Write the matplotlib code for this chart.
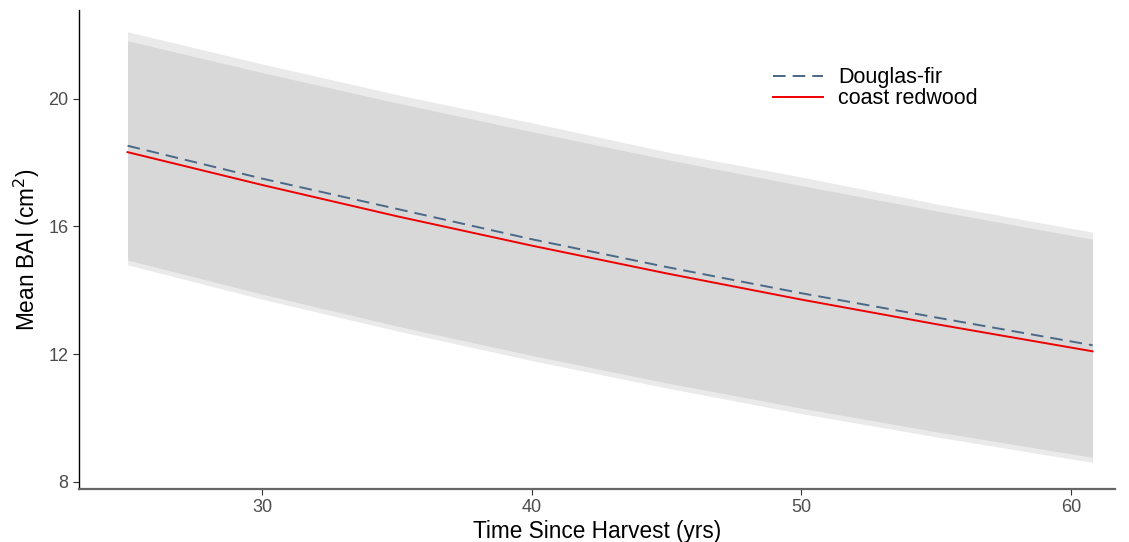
import matplotlib
matplotlib.use('Agg')
import matplotlib.pyplot as plt

plt.rcParams['font.family'] = ['Liberation Sans', 'DejaVu Sans']

# values
years = [25, 30, 35, 40, 45, 50, 55, 60.8]

df_mean = [18.53, 17.50, 16.55, 15.60, 14.73, 13.91, 13.15, 12.28]
df_upper = [22.10, 21.09, 20.13, 19.25, 18.34, 17.55, 16.71, 15.82]
df_lower = [14.95, 13.88, 12.88, 11.96, 11.10, 10.31, 9.57, 8.77]

cr_mean = [18.33, 17.30, 16.32, 15.40, 14.53, 13.71, 12.94, 12.09]
cr_upper = [21.82, 20.82, 19.87, 18.97, 18.10, 17.28, 16.49, 15.60]
cr_lower = [14.80, 13.72, 12.73, 11.80, 10.94, 10.14, 9.41, 8.61]

species = ['Douglas-fir', 'coast redwood']
x_ticks = [30, 40, 50, 60]
y_ticks = [8, 12, 16, 20]

fig = plt.figure(figsize=(11.29, 5.42), dpi=100)
ax = fig.add_axes([0.070, 0.098, 0.918, 0.884])

# confidence ribbons
ax.fill_between(years, df_lower, df_upper, color=(0.45, 0.45, 0.45),
                alpha=0.15, linewidth=0)
ax.fill_between(years, cr_lower, cr_upper, color=(0.45, 0.45, 0.45),
                alpha=0.15, linewidth=0)

# mean lines
ax.plot(years, df_mean, color='#4a6887', linewidth=1.4,
        dashes=(6.5, 3.6), label=species[0])
ax.plot(years, cr_mean, color='#ee0000', linewidth=1.4,
        label=species[1])

ax.set_xlim(23.2, 61.65)
ax.set_ylim(7.78, 22.79)
ax.set_xticks(x_ticks)
ax.set_yticks(y_ticks)

ax.spines['top'].set_visible(False)
ax.spines['right'].set_visible(False)
ax.spines['left'].set_color('black')
ax.spines['left'].set_linewidth(1.0)
ax.spines['bottom'].set_color('#666666')
ax.spines['bottom'].set_linewidth(1.6)

ax.tick_params(axis='both', direction='out', length=4, width=0.8,
               color='#333333', labelcolor='#4d4d4d', labelsize=13)

ax.set_xlabel('Time Since Harvest (yrs)', fontsize=16.3, labelpad=3)
ax.set_ylabel('Mean BAI (cm$^2$)', fontsize=16.3, labelpad=5)

ax.legend(loc='upper left', bbox_to_anchor=(0.6696, 0.88), frameon=False,
          fontsize=15.5, handlelength=2.32, handletextpad=0.7,
          labelspacing=0.0, borderpad=0, borderaxespad=0)

fig.savefig('out.png', dpi=100)
